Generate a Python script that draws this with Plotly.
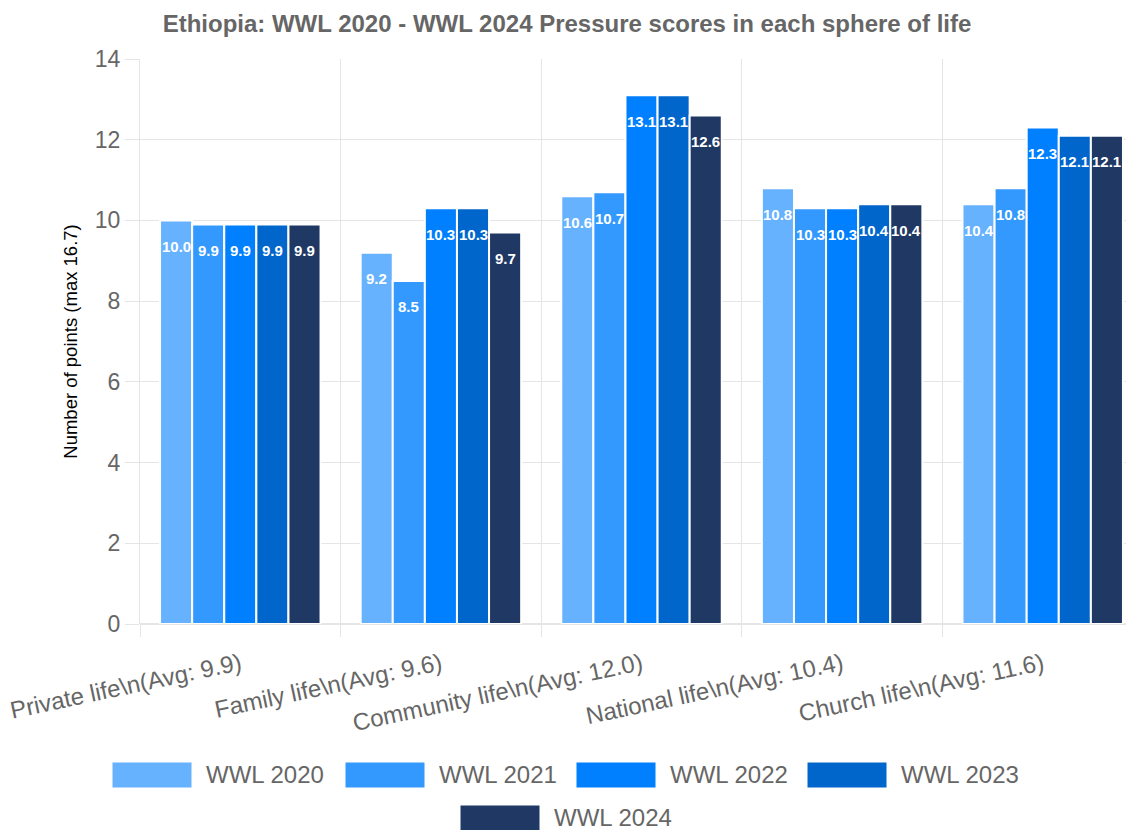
import plotly.graph_objects as go

categories = [
    "Private life\\n(Avg: 9.9)",
    "Family life\\n(Avg: 9.6)",
    "Community life\\n(Avg: 12.0)",
    "National life\\n(Avg: 10.4)",
    "Church life\\n(Avg: 11.6)",
]
series_names = ["WWL 2020", "WWL 2021", "WWL 2022", "WWL 2023", "WWL 2024"]
wwl_2020 = [10.0, 9.2, 10.6, 10.8, 10.4]
wwl_2021 = [9.9, 8.5, 10.7, 10.3, 10.8]
wwl_2022 = [9.9, 10.3, 13.1, 10.3, 12.3]
wwl_2023 = [9.9, 10.3, 13.1, 10.4, 12.1]
wwl_2024 = [9.9, 9.7, 12.6, 10.4, 12.1]
series_values = [wwl_2020, wwl_2021, wwl_2022, wwl_2023, wwl_2024]
colors = ["#66b2ff", "#3399ff", "#007fff", "#0066cc", "#1f3864"]

OFF = 8  # default page body margin
W, H = 1134 - OFF, 830 - OFF
ML, MR, MT, MB = 140 - OFF, 0, 59 - OFF, 206
PW, PH = W - ML - MR, H - MT - MB
FONT = "Liberation Sans, Arial, Helvetica, sans-serif"

fig = go.Figure()
for name, vals, col in zip(series_names, series_values, colors):
    fig.add_trace(go.Bar(
        name=name, x=categories, y=vals,
        marker=dict(color=col, line=dict(color="white", width=2)),
        showlegend=False, hoverinfo="x+y+name",
    ))

# value labels inside bars
band_px = PW / 4.955
bar_px = band_px * 0.8 / 5
annotations = []
for i, vals in enumerate(series_values):
    for c, v in zip(categories, vals):
        annotations.append(dict(
            x=c, y=v, xref="x", yref="y", text=f"{v:.1f}", showarrow=False,
            xshift=(i - 2) * bar_px, yshift=-26,
            font=dict(family=FONT, size=15, color="white", weight="bold"),
        ))

# manual legend (screen pixel positions -> paper coords)
def px2x(px):
    return (px - OFF - ML) / PW

def py2y(py):
    return (H - MB - (py - OFF)) / PH

legend_pos = [(112, 762), (345, 762), (576, 762), (807, 762), (460, 805)]
shapes = []
for (lx, ly), name, col in zip(legend_pos, series_names, colors):
    shapes.append(dict(type="rect", xref="paper", yref="paper",
                       x0=px2x(lx), x1=px2x(lx + 80), y0=py2y(ly + 26), y1=py2y(ly),
                       fillcolor=col, line=dict(color="white", width=1), layer="above"))
    annotations.append(dict(x=px2x(lx + 92), y=py2y(ly + 12), xref="paper", yref="paper",
                            xanchor="left", yanchor="middle", text=name, showarrow=False,
                            font=dict(family=FONT, size=24, color="#666666")))

fig.update_layout(
    width=W, height=H,
    margin=dict(l=ML, r=MR, t=MT, b=MB, pad=0),
    barmode="group", bargap=0.2, bargroupgap=0,
    plot_bgcolor="white", paper_bgcolor="white",
    font=dict(family=FONT, color="#666666"),
    title=dict(text="<b>Ethiopia: WWL 2020 - WWL 2024 Pressure scores in each sphere of life</b>",
               x=(567 - OFF) / W, xref="container", xanchor="center",
               y=1 - (24 - OFF) / H, yref="container", yanchor="middle",
               font=dict(family=FONT, size=24, color="#666666")),
    xaxis=dict(type="category", range=[-0.5, 4.455], tickson="boundaries",
               showgrid=True, gridcolor="#e5e5e5", gridwidth=1,
               ticks="outside", ticklen=12, tickcolor="#e5e5e5",
               tickangle=-12, ticklabelstandoff=21,
               tickfont=dict(family=FONT, size=24, color="#666666"),
               showline=False, zeroline=False),
    yaxis=dict(range=[0, 14], dtick=2, showgrid=True, gridcolor="#e5e5e5", gridwidth=1,
               ticks="outside", ticklen=14, tickcolor="#e5e5e5",
               tickfont=dict(family=FONT, size=23, color="#666666"),
               showline=True, linecolor="#e5e5e5", zeroline=True, zerolinecolor="#e5e5e5",
               title=dict(text="Number of points (max 16.7)", standoff=12,
                          font=dict(family=FONT, size=18.5, color="#000000"))),
    annotations=annotations, shapes=shapes,
)

fig.write_html("out.html")
